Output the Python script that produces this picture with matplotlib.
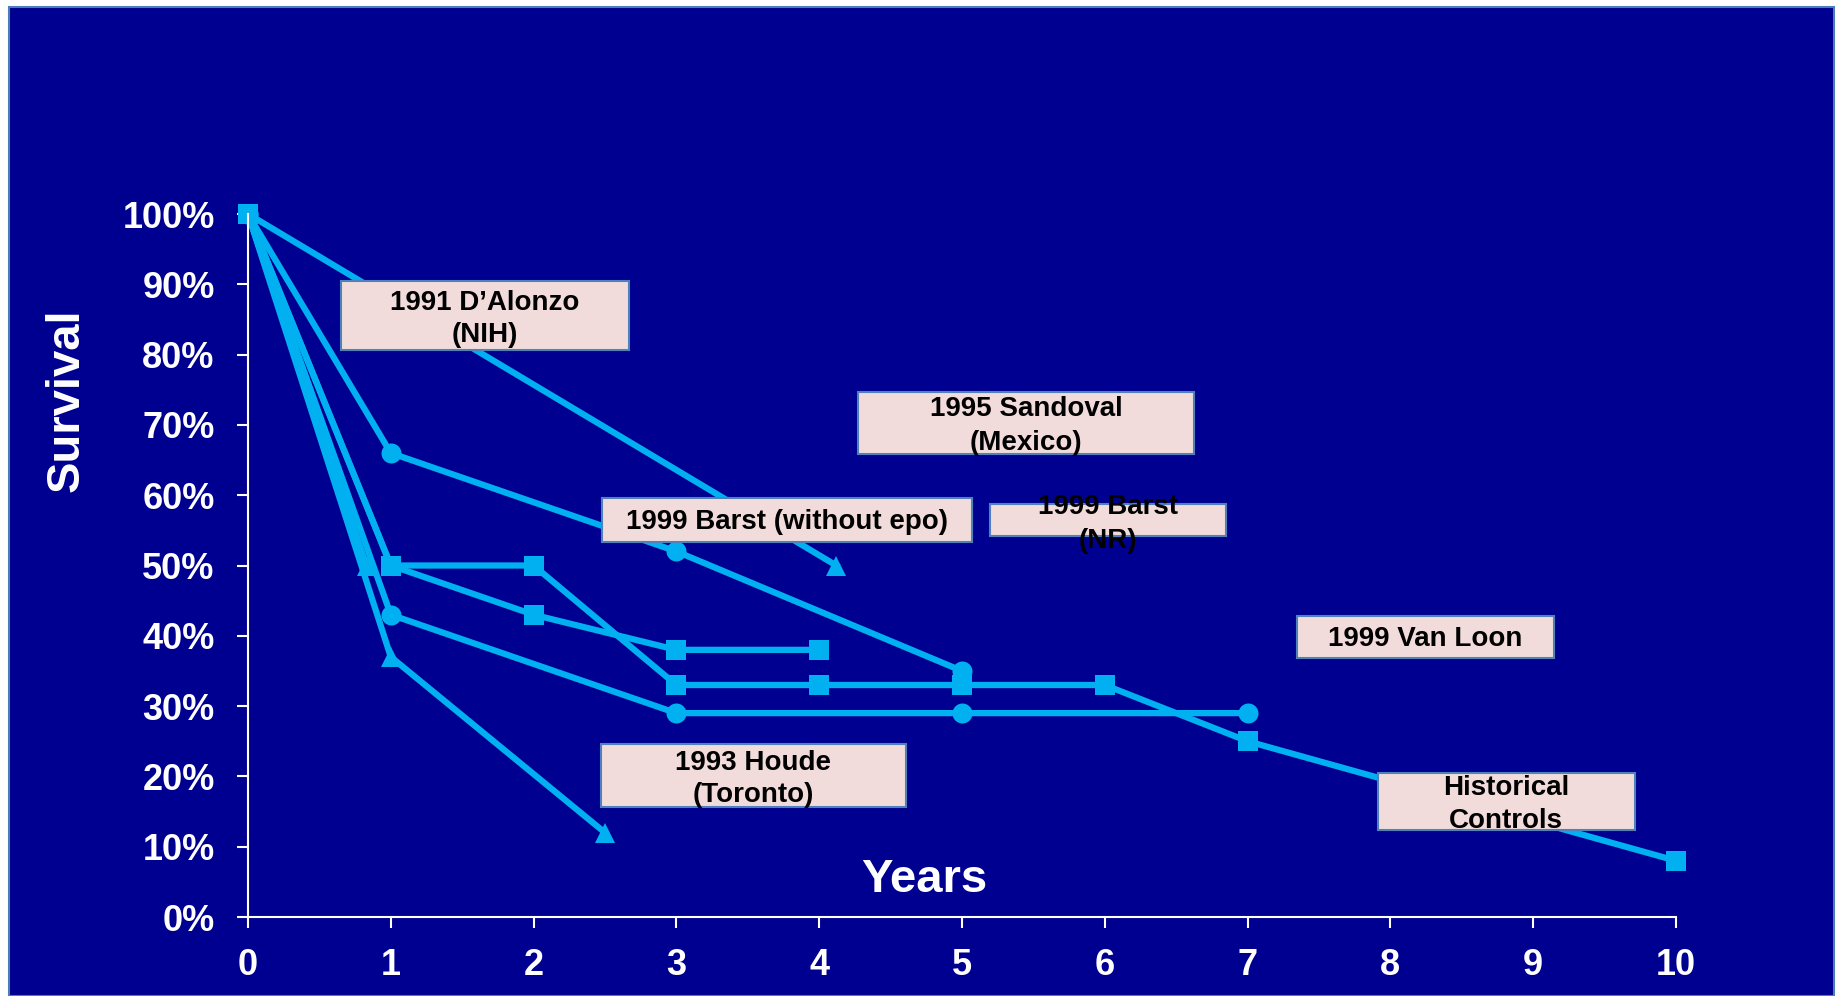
import matplotlib.pyplot as plt
from matplotlib.patches import Rectangle

W, H = 1837, 996

# survival curves, years vs fraction surviving
tri_a_years = [0, 4.12]
tri_a_surv = [1.00, 0.50]

tri_b_years = [0, 0.83]
tri_b_surv = [1.00, 0.50]

tri_c_years = [0, 1, 2.5]
tri_c_surv = [1.00, 0.37, 0.12]

circ_a_years = [0, 1, 3, 5]
circ_a_surv = [1.00, 0.66, 0.52, 0.35]

circ_b_years = [0, 1, 3, 5, 7]
circ_b_surv = [1.00, 0.43, 0.29, 0.29, 0.29]

sq_a_years = [0, 1, 2, 3, 4, 5, 6, 7, 10]
sq_a_surv = [1.00, 0.50, 0.50, 0.33, 0.33, 0.33, 0.33, 0.25, 0.08]

sq_b_years = [0, 1, 2, 3, 4]
sq_b_surv = [1.00, 0.50, 0.43, 0.38, 0.38]

x_ticks = list(range(0, 11))
y_ticks = [i / 10 for i in range(0, 11)]
y_tick_labels = ['{}%'.format(i * 10) for i in range(0, 11)]

study_labels = [
    '1991 D’Alonzo\n(NIH)',
    '1995 Sandoval\n(Mexico)',
    '1999 Barst (without epo)',
    '1999 Barst\n(NR)',
    '1993 Houde\n(Toronto)',
    '1999 Van Loon',
    'Historical\nControls',
]

NAVY = '#000090'
LINE = '#00B0F0'
BOX_FILL = '#F2DCDB'
BOX_EDGE = '#4F81BD'


def fx(px):
    return px / W


def fy(py):
    return 1 - py / H


fig = plt.figure(figsize=(W / 100, H / 100), dpi=100, facecolor='white')
fig.patches.append(Rectangle((fx(9), 0), fx(1834) - fx(9), fy(7), transform=fig.transFigure,
                             facecolor=NAVY, edgecolor='#4A7EBB', linewidth=1.5, zorder=-10))

ax = fig.add_axes([fx(248), fy(917), fx(1676) - fx(248), fy(214) - fy(917)])
ax.set_facecolor('none')
ax.set_xlim(0, 10)
ax.set_ylim(0, 1.0)

series = [
    (tri_a_years, tri_a_surv, '^'),
    (tri_b_years, tri_b_surv, '^'),
    (tri_c_years, tri_c_surv, '^'),
    (circ_a_years, circ_a_surv, 'o'),
    (circ_b_years, circ_b_surv, 'o'),
    (sq_b_years, sq_b_surv, 's'),
    (sq_a_years, sq_a_surv, 's'),
]
for xs, ys, m in series:
    ax.plot(xs, ys, color=LINE, lw=4.5, marker=m, markersize=14.4,
            markeredgewidth=0, markerfacecolor=LINE, clip_on=False)

for side in ['top', 'right']:
    ax.spines[side].set_visible(False)
for side in ['left', 'bottom']:
    ax.spines[side].set_color('white')
    ax.spines[side].set_linewidth(1.5)

ax.set_xticks(x_ticks)
ax.set_xticklabels([str(t) for t in x_ticks])
ax.set_yticks(y_ticks)
ax.set_yticklabels(y_tick_labels)
ax.tick_params(axis='both', colors='white', direction='out', length=8, width=1.5,
               labelsize=26)
ax.tick_params(axis='x', pad=14)
ax.tick_params(axis='y', pad=16)
for lbl in ax.get_xticklabels() + ax.get_yticklabels():
    lbl.set_fontweight('bold')
    lbl.set_family('Liberation Sans')

fig.text(fx(67), fy(400), 'Survival', rotation=90, ha='center', va='center',
         color='white', fontsize=34, fontweight='bold', family='Liberation Sans')
fig.text(fx(924), fy(880), 'Years', ha='center', va='center',
         color='white', fontsize=34, fontweight='bold', family='Liberation Sans')

# study boxes: (left, top, right, bottom) and text centre, in pixels
boxes = [
    ((341, 281, 629, 350), (485, 319)),
    ((858, 392, 1194, 454), (1026, 426)),
    ((602, 498, 972, 542), (787, 522)),
    ((990, 504, 1226, 536), (1108, 524)),
    ((601, 744, 906, 807), (753, 779)),
    ((1297, 616, 1554, 658), (1425, 639)),
    ((1378, 773, 1635, 830), (1506, 804)),
]
for label, ((l, t, r, b), (cx, cy)) in zip(study_labels, boxes):
    fig.patches.append(Rectangle((fx(l), fy(b)), fx(r) - fx(l), fy(t) - fy(b),
                                 transform=fig.transFigure, facecolor=BOX_FILL,
                                 edgecolor=BOX_EDGE, linewidth=1.5, zorder=5))
    fig.text(fx(cx), fy(cy), label, ha='center', va='center', color='black',
             fontsize=20, fontweight='bold', family='Liberation Sans',
             linespacing=1.35, zorder=6)

fig.savefig('out.png', dpi=100, facecolor=fig.get_facecolor())
